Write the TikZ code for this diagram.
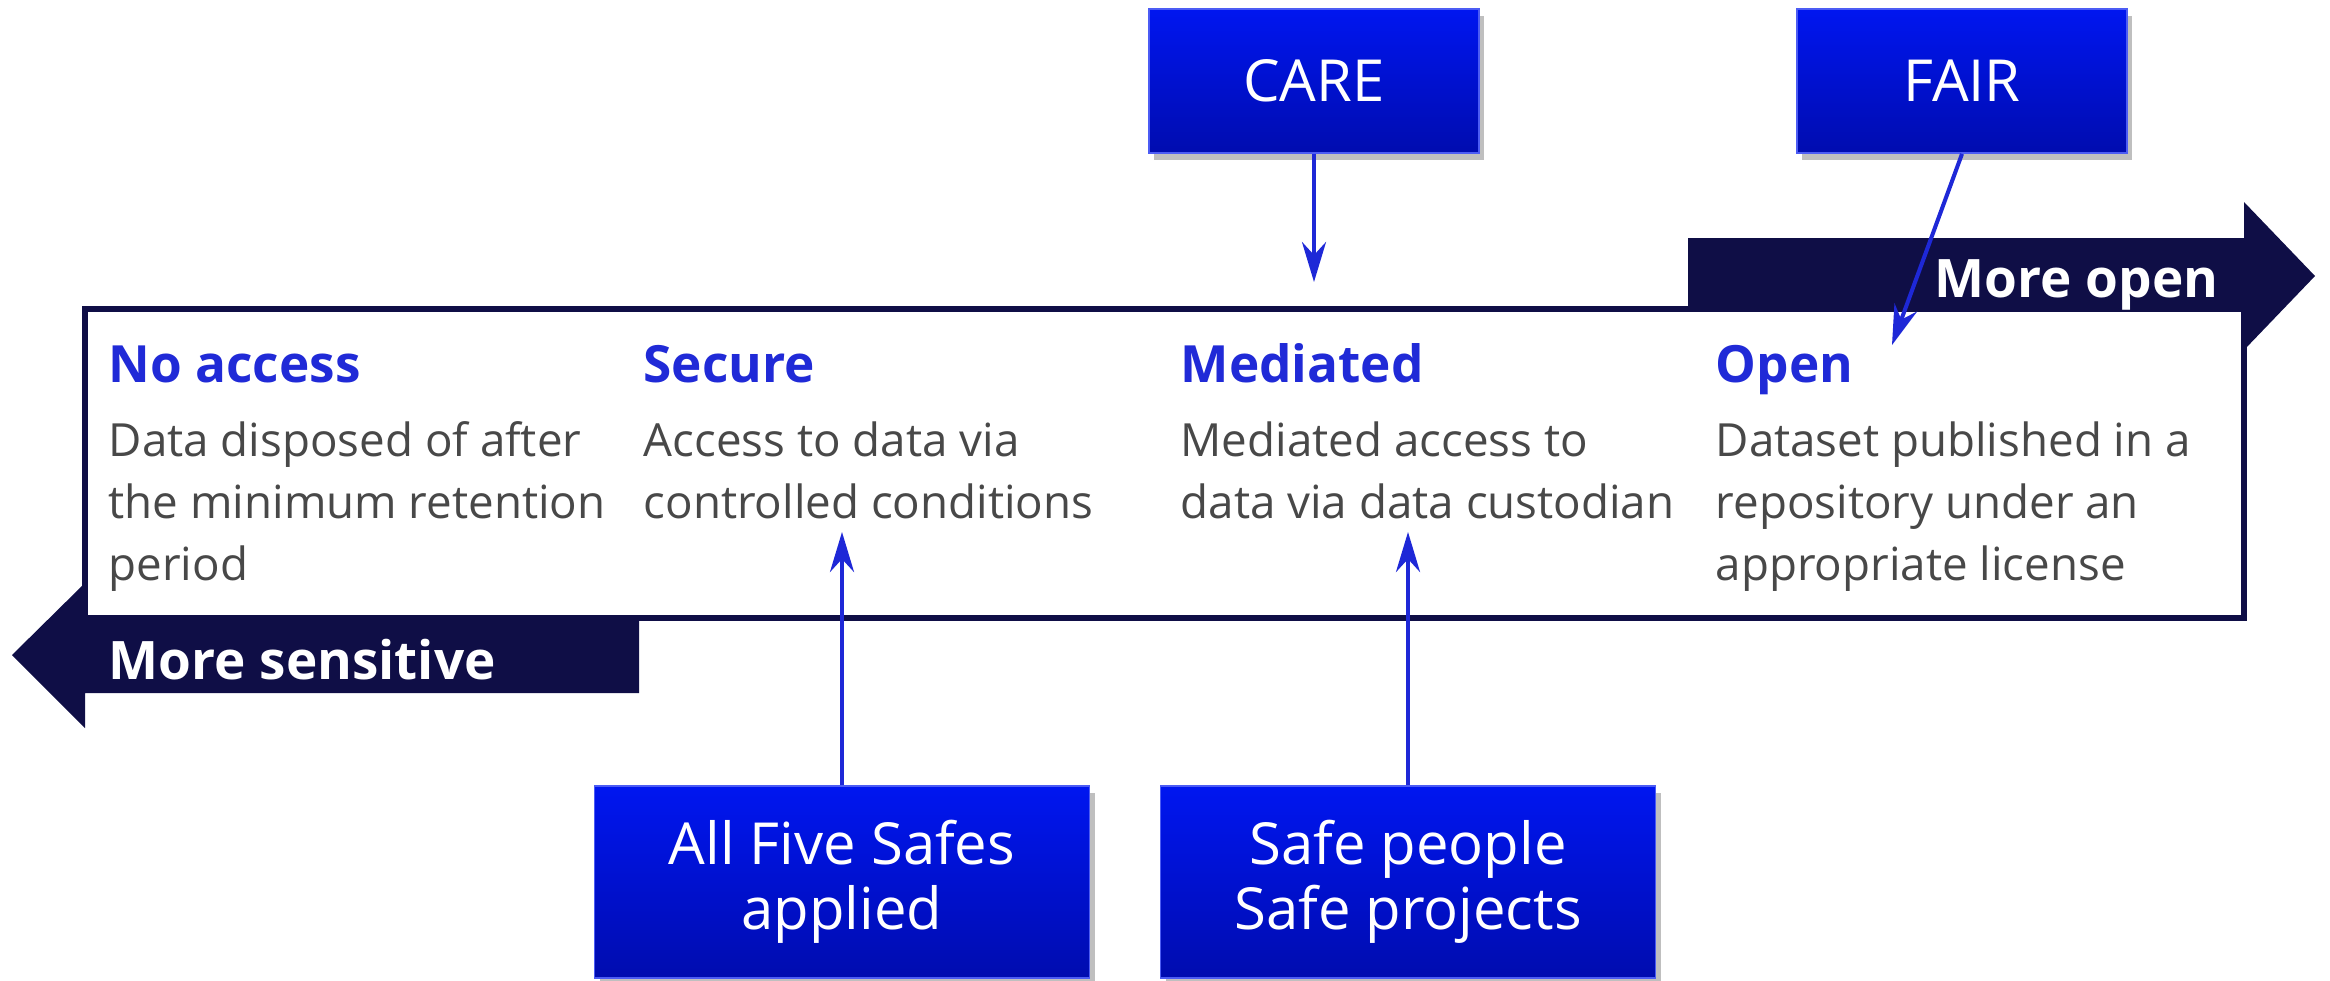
\documentclass[tikz,border=0pt]{standalone}
\usepackage{fontspec}
\setmainfont{Open Sans}
\usetikzlibrary{arrows.meta,shadows}
\definecolor{navy}{RGB}{15,14,70}
\definecolor{hblue}{RGB}{32,42,215}
\definecolor{bodygray}{RGB}{72,72,72}
\definecolor{abl}{RGB}{30,40,215}
\definecolor{btop}{RGB}{0,22,240}
\definecolor{bbot}{RGB}{0,12,175}
\tikzset{
  bluebox/.style={rectangle, top color=btop, bottom color=bbot, draw=btop!70!white, line width=0.5pt,
    text=white, align=center, inner sep=0pt,
    font=\fontsize{16.5}{18.4}\selectfont,
    drop shadow={shadow xshift=0.5mm, shadow yshift=-0.7mm, opacity=0.25, fill=black}},
  conn/.style={draw=abl, line width=1.15pt, -{Stealth[length=4mm,width=2.4mm]}},
  head/.style={text=hblue, inner sep=0pt, font=\fontsize{14.6}{17}\selectfont\bfseries},
  bodytxt/.style={text=bodygray, inner sep=0pt, align=left, font=\fontsize{13}{17.6}\selectfont},
  arrtxt/.style={text=white, inner sep=0pt, font=\fontsize{15.1}{18}\selectfont\bfseries},
}
\begin{document}
\begin{tikzpicture}[x=0.1mm,y=-0.1mm]
\useasboundingbox (0,0) rectangle (2330,980);
% block arrows
\fill[navy] (1688,238) -- (2244,238) -- (2244,202) -- (2315,276) -- (2244,350) -- (2244,309) -- (1688,309) -- cycle;
\fill[navy] (639,618) -- (639,693) -- (85,693) -- (85,728) -- (12,655) -- (85,583) -- (85,618) -- cycle;
% main box
\draw[navy, line width=1.7pt, fill=white] (85,309) rectangle (2244,618);
% arrow labels
\node[arrtxt, anchor=base east] (mo) at (2219,297) {More open};
\node[arrtxt, anchor=base west] (ms) at (108,679) {More sensitive};
% headings
\node[head, anchor=base west] (h1) at (108,382) {No access};
\node[head, anchor=base west] (h2) at (643,382) {Secure};
\node[head, anchor=base west] (h3) at (1180,382) {Mediated};
\node[head, anchor=base west] (h4) at (1715,382) {Open};
% bodies
\node[bodytxt, anchor=north west] (b1) at (108,421) {Data disposed of after\\the minimum retention\\period};
\node[bodytxt, anchor=north west] (b2) at (643,421) {Access to data via\\controlled conditions};
\node[bodytxt, anchor=north west] (b3) at (1180,421) {Mediated access to\\data via data custodian};
\node[bodytxt, anchor=north west] (b4) at (1715,421) {Dataset published in a\\repository under an\\appropriate license};
% blue boxes
\node[bluebox, minimum width=33mm, minimum height=14.4mm] (care) at (1314,81) {CARE};
\node[bluebox, minimum width=33mm, minimum height=14.4mm] (fair) at (1962,81) {FAIR};
\node[bluebox, minimum width=49.5mm, minimum height=19.2mm] (safes) at (842,882) {All Five Safes\\applied};
\node[bluebox, minimum width=49.5mm, minimum height=19.2mm] (people) at (1408,882) {Safe people\\Safe projects};
% connector ends
\coordinate (careend) at (1314,282);
\coordinate (fairend) at (1892,345);
\coordinate (safesend) at (842,532);
\coordinate (peopleend) at (1408,532);
\draw[conn] (care.south) -- (careend);
\draw[conn] (fair.south) -- (fairend);
\draw[conn] (safes.north) -- (safesend);
\draw[conn] (people.north) -- (peopleend);
\end{tikzpicture}
\end{document}
